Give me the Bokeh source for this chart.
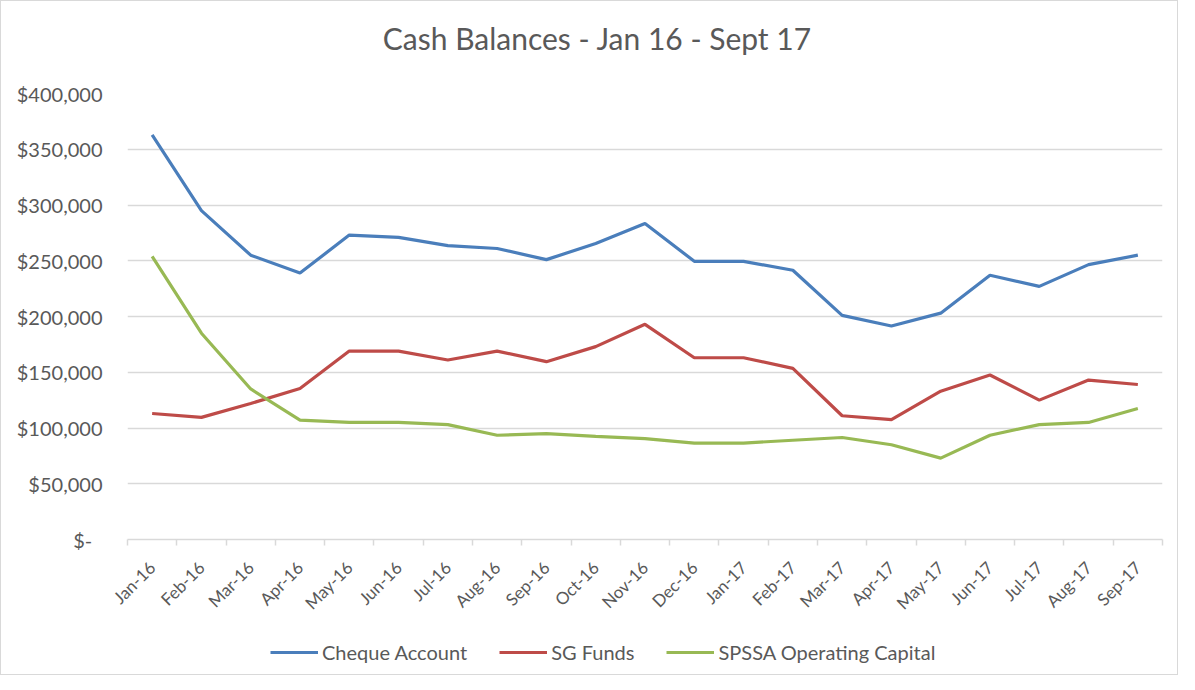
import numpy as np
from bokeh.plotting import figure
from bokeh.layouts import column
from bokeh.models import (Range1d, FixedTicker, NumeralTickFormatter, Legend, LegendItem, Label)
from bokeh.embed import file_html
from bokeh.resources import INLINE

title_text = "Cash Balances - Jan 16 - Sept 17"
months = ["Jan-16", "Feb-16", "Mar-16", "Apr-16", "May-16", "Jun-16", "Jul-16",
          "Aug-16", "Sep-16", "Oct-16", "Nov-16", "Dec-16", "Jan-17", "Feb-17",
          "Mar-17", "Apr-17", "May-17", "Jun-17", "Jul-17", "Aug-17", "Sep-17"]
cheque = [363000, 295000, 255000, 239000, 273000, 271000, 263500, 261000, 251000,
          265500, 283500, 249500, 249500, 241500, 201000, 191500, 203000, 237000,
          227000, 246500, 255000]
sg_funds = [113000, 109500, 122000, 135500, 169000, 169000, 161000, 169000, 159500,
            173000, 193000, 163000, 163000, 153500, 111000, 107500, 133000, 147500,
            125000, 143000, 139000]
spssa = [254000, 185000, 135000, 107000, 105000, 105000, 103000, 93500, 95000,
         92500, 90500, 86500, 86500, 89000, 91500, 85000, 73000, 93500, 103000,
         105000, 117500]
series_names = ["Cheque Account", "SG Funds", "SPSSA Operating Capital"]
series_colors = ["#4a7ebb", "#be4b48", "#98b954"]
y_ticks = [0, 50000, 100000, 150000, 200000, 250000, 300000, 350000, 400000]

FONT = "Lato"
TXT = "#595959"
W = 1176
ML, MR = 126, 15

n = len(months)
xs = np.arange(n) + 0.5
series = [cheque, sg_funds, spssa]

# ---- title strip ----
pt = figure(width=W, height=80, output_backend="svg", toolbar_location=None,
            x_range=Range1d(0, 1), y_range=Range1d(0, 1),
            x_axis_location=None, y_axis_location=None,
            min_border_left=ML, min_border_right=MR, min_border_top=0, min_border_bottom=0)
pt.outline_line_color = None
pt.grid.grid_line_color = None
pt.border_fill_color = "white"
pt.add_layout(Label(x=0.454, y=0.55, text=title_text, text_align="center",
                    text_baseline="middle", text_font=FONT, text_font_size="30px",
                    text_color=TXT))

# ---- main chart ----
p = figure(width=W, height=542, output_backend="svg", toolbar_location=None,
           x_range=Range1d(0, n), y_range=Range1d(0, 400000),
           min_border_left=ML, min_border_right=MR, min_border_top=12,
           min_border_bottom=83)
p.outline_line_color = None
p.background_fill_color = "white"
p.border_fill_color = "white"

renderers = []
for vals, col in zip(series, series_colors):
    renderers.append(p.line(xs, vals, line_color=col, line_width=3.2))

xa = p.xaxis[0]
xa.ticker = FixedTicker(ticks=list(xs), minor_ticks=list(np.arange(n + 1)))
xa.major_label_overrides = {float(x): m for x, m in zip(xs, months)}
xa.major_label_orientation = np.pi / 4
xa.major_tick_line_color = None
xa.minor_tick_line_color = "#d9d9d9"
xa.minor_tick_line_width = 1.5
xa.minor_tick_out = 6
xa.minor_tick_in = 0
xa.axis_line_color = "#d9d9d9"
xa.axis_line_width = 1.5
xa.major_label_text_font = FONT
xa.major_label_text_font_size = "17px"
xa.major_label_text_color = TXT
xa.major_label_standoff = 19

ya = p.yaxis[0]
ya.ticker = FixedTicker(ticks=y_ticks)
ya.formatter = NumeralTickFormatter(format="$0,0")
ya.major_label_overrides = {0: "$-\u00a0\u00a0"}
ya.axis_line_color = None
ya.major_tick_line_color = None
ya.minor_tick_line_color = None
ya.major_label_text_font = FONT
ya.major_label_text_font_size = "20px"
ya.major_label_text_color = TXT
ya.major_label_standoff = 19

p.xgrid.grid_line_color = None
p.ygrid.grid_line_color = "#d9d9d9"
p.ygrid.grid_line_width = 1.5

# ---- legend strip (series drawn out of its visible range; only the key shows) ----
pl = figure(width=W, height=51, output_backend="svg", toolbar_location=None,
            x_range=Range1d(0, n), y_range=Range1d(-2, -1),
            x_axis_location=None, y_axis_location=None,
            min_border_left=ML, min_border_right=MR, min_border_top=0, min_border_bottom=0)
pl.outline_line_color = None
pl.grid.grid_line_color = None
pl.border_fill_color = "white"
leg_renderers = [pl.line(xs, vals, line_color=c, line_width=3.2)
                 for vals, c in zip(series, series_colors)]
legend = Legend(items=[LegendItem(label=nm, renderers=[r]) for nm, r in zip(series_names, leg_renderers)],
                orientation="horizontal", location=(143, 10))
legend.border_line_color = None
legend.background_fill_alpha = 0
legend.label_text_font = FONT
legend.label_text_font_size = "20px"
legend.label_text_color = TXT
legend.glyph_width = 48
legend.label_standoff = 4
legend.spacing = 32
legend.margin = 0
legend.padding = 4
pl.add_layout(legend)

layout = column(pt, p, pl, spacing=0)
layout.styles = {"border": "1px solid #d9d9d9"}

open("out.html", "w").write(file_html(layout, INLINE))
